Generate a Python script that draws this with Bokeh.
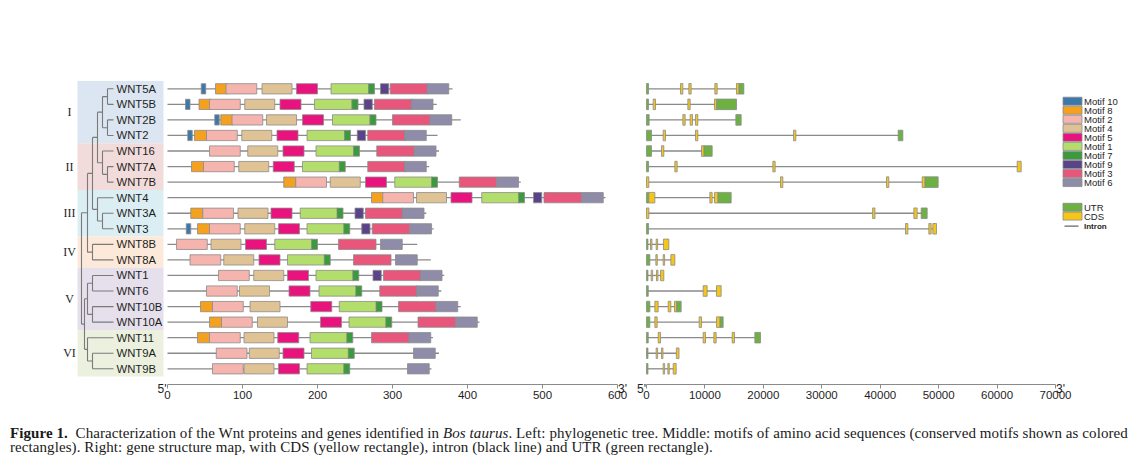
from bokeh.plotting import figure
from bokeh.models import Range1d, LinearAxis, SingleIntervalTicker, BasicTickFormatter, Div
from bokeh.layouts import column
from bokeh.embed import file_html
from bokeh.resources import INLINE
from bokeh.core.properties import value

# ---------------- data ----------------
genes = ["WNT5A", "WNT5B", "WNT2B", "WNT2", "WNT16", "WNT7A", "WNT7B", "WNT4", "WNT3A", "WNT3",
         "WNT8B", "WNT8A", "WNT1", "WNT6", "WNT10B", "WNT10A", "WNT11", "WNT9A", "WNT9B"]

group_names = ["I", "II", "III", "IV", "V", "VI"]
group_first = [0, 4, 7, 10, 12, 16]
group_last = [3, 6, 9, 11, 15, 18]

# phylogenetic tree: [node height, child, child]
tree = [32,
        [26,
         [21,
          [16, [11, [6, "WNT5A", "WNT5B"], [6, "WNT2B", "WNT2"]],
               [11, "WNT16", [6, "WNT7A", "WNT7B"]]],
          [16, "WNT4", [11, "WNT3A", "WNT3"]]],
         [21, "WNT8B", "WNT8A"]],
        [29,
         [26, [21, "WNT1", "WNT6"], [21, "WNT10B", "WNT10A"]],
         [26, "WNT11", [21, "WNT9A", "WNT9B"]]]]

protein_length = [380, 359, 391, 360, 362, 349, 471, 584, 345, 355,
                  333, 351, 369, 365, 391, 416, 354, 362, 352]

motif_names = ["Motif 10", "Motif 8", "Motif 2", "Motif 4", "Motif 5",
               "Motif 1", "Motif 7", "Motif 9", "Motif 3", "Motif 6"]
motif_width = [6, 16, 41, 40, 28, 50, 8, 11, 50, 29]
# start position (aa) of each motif, in motif_names order (None = absent)
motif_start = {
    "WNT5A":  [45, 64, 78, 126, 172, 218, 268, 284, 297, 346],
    "WNT5B":  [24, 42, 56, 103, 150, 196, 246, 262, 276, 325],
    "WNT2B":  [63, 71, 86, 132, 180, 220, 270, None, 300, 350],
    "WNT2":   [27, 36, 52, 99, 146, 186, 236, 253, 267, 316],
    "WNT16":  [None, None, 56, 107, 154, 198, 248, None, 279, 329],
    "WNT7A":  [None, 32, 48, 95, 141, 180, 229, None, 267, 316],
    "WNT7B":  [None, 155, 171, 217, 264, 303, 352, None, 389, 439],
    "WNT4":   [None, 272, 287, 332, 378, 419, 468, 488, 502, 552],
    "WNT3A":  [None, 31, 47, 94, 138, 177, 226, 250, 264, 313],
    "WNT3":   [25, 40, 56, 103, 148, 186, 235, 259, 273, 323],
    "WNT8B":  [None, None, 12, 58, 104, 143, 192, None, 228, 284],
    "WNT8A":  [None, None, 30, 75, 122, 160, 209, None, 248, 304],
    "WNT1":   [None, None, 68, 115, 160, 198, 247, 274, 288, 337],
    "WNT6":   [None, None, 52, 96, 162, 202, 251, None, 283, 332],
    "WNT10B": [None, 44, 60, 110, 191, 229, 278, None, 308, 358],
    "WNT10A": [None, 56, 72, 120, 204, 242, 291, None, 334, 384],
    "WNT11":  [None, 40, 56, 102, 147, 190, 239, None, 272, 322],
    "WNT9A":  [None, None, 65, 109, 154, 192, 241, None, None, 328],
    "WNT9B":  [None, None, 60, 102, 148, 186, 235, None, None, 320],
}

gene_length = [16660, 15404, 16202, 43872, 11239, 64125, 49917, 14490, 48036, 49634,
               3822, 4850, 2966, 12779, 5933, 13122, 19511, 5563, 5078]
utr_segments = {
    "WNT5A": [(0, 350), (15803, 16660)],
    "WNT5B": [(0, 350), (11980, 15404)],
    "WNT2B": [(0, 450), (15289, 16202)],
    "WNT2": [(0, 856), (43073, 43872)],
    "WNT16": [(0, 856), (9813, 11239)],
    "WNT7A": [(0, 350)],
    "WNT7B": [(47636, 49917)],
    "WNT4": [(0, 400), (12208, 14490)],
    "WNT3A": [(47009, 48036)],
    "WNT3": [(0, 350)],
    "WNT8B": [(0, 250)],
    "WNT8A": [(0, 570)],
    "WNT1": [(0, 250)],
    "WNT6": [(0, 300)],
    "WNT10B": [(0, 570), (5135, 5933)],
    "WNT10A": [(0, 570), (12551, 13122)],
    "WNT11": [(0, 300), (18541, 19511)],
    "WNT9A": [(0, 250)],
    "WNT9B": [(0, 250)],
}
cds_segments = {
    "WNT5A": [(5819, 6219), (7245, 7645), (11695, 12095), (15404, 15803)],
    "WNT5B": [(1141, 1541), (7074, 7474), (11638, 11980)],
    "WNT2B": [(6218, 6618), (7473, 7873), (8386, 8786)],
    "WNT2": [(2852, 3252), (8386, 8786), (25159, 25559)],
    "WNT16": [(2567, 2967), (9413, 9813)],
    "WNT7A": [(4849, 5249), (21622, 22022), (63441, 64125)],
    "WNT7B": [(0, 400), (22934, 23334), (41076, 41476), (47180, 47636)],
    "WNT4": [(400, 1426), (10839, 11239), (11638, 12208)],
    "WNT3A": [(0, 400), (38700, 39100), (45754, 46325)],
    "WNT3": [(44328, 44728), (48322, 48722), (49006, 49634)],
    "WNT8B": [(685, 935), (1654, 1904), (2900, 3822)],
    "WNT8A": [(1597, 1847), (2852, 3102), (4165, 4850)],
    "WNT1": [(799, 1049), (1711, 1961), (2396, 2966)],
    "WNT6": [(9699, 10383), (11981, 12779)],
    "WNT10B": [(1426, 1997), (3709, 4165), (4792, 5135)],
    "WNT10A": [(1426, 1826), (9014, 9414), (11981, 12551)],
    "WNT11": [(1997, 2397), (9699, 10099), (11524, 11924), (14661, 15061)],
    "WNT9A": [(1654, 1904), (2567, 2817), (5107, 5563)],
    "WNT9B": [(2852, 3102), (3652, 3902), (4564, 5078)],
}

motif_ticks_max = 600
gene_ticks_max = 70000

# ---------------- styling / layout constants ----------------
motif_colors = ["#3d78ab", "#f4a11f", "#f6b4ae", "#dfc394", "#e8137d",
                "#b3de6c", "#3a9a3d", "#5b4389", "#e8567b", "#8f8ca9"]
group_colors = ["#dce6f2", "#f2dcdb", "#dbeef3", "#fde9d9", "#e5e0ec", "#ebf1de"]
UTR_COLOR = "#6cb142"
CDS_COLOR = "#f5c518"
EDGE = "#8c8c8c"
LINE = "#8a8a8a"
TXT = "#1e1e1e"
SANS = value("Liberation Sans")
SERIF = value("Liberation Serif")

W, H = 1134, 410
PX0, PX1 = 0, W            # page pixels covered by the frame
PY0, PY1 = 0, H
ROW0, ROW_STEP = 88.3, 280 / 18.0
MOTIF_X0, MOTIF_X1 = 167.0, 617.0
GENE_X0, GENE_X1 = 646.0, 1055.0
AXIS_Y = 384
TIP_X = 113
LABEL_X = 116

ms = (MOTIF_X1 - MOTIF_X0) / motif_ticks_max
gs = (GENE_X1 - GENE_X0) / gene_ticks_max

p = figure(width=W, height=H, output_backend="svg", toolbar_location=None, title=None,
           x_range=Range1d(PX0, PX1), y_range=Range1d(PY1, PY0),
           x_axis_type=None, y_axis_type=None, min_border=0,
           outline_line_color=None, background_fill_color="white", border_fill_color="white")
p.extra_x_ranges = {
    "motif": Range1d((PX0 - MOTIF_X0) / ms, (PX1 - MOTIF_X0) / ms),
    "gene": Range1d((PX0 - GENE_X0) / gs, (PX1 - GENE_X0) / gs),
}
p.extra_y_ranges = {"row": Range1d((PY1 - ROW0) / ROW_STEP, (PY0 - ROW0) / ROW_STEP)}

rows = list(range(len(genes)))

# ---------------- group bands & numerals ----------------
p.quad(left=[77] * 6, right=[163] * 6,
       top=[f - 0.5 for f in group_first], bottom=[l + 0.5 for l in group_last],
       fill_color=group_colors, line_color=None, y_range_name="row")
p.text(x=[69] * 6, y=[(f + l) / 2 for f, l in zip(group_first, group_last)], text=group_names,
       text_font=SERIF, text_font_size="12px", text_color=TXT,
       text_align="center", text_baseline="middle", y_range_name="row")

# ---------------- tree ----------------
segs = []


def walk(node):
    if isinstance(node, str):
        return TIP_X, genes.index(node)
    h, a, b = node
    xa, ya = walk(a)
    xb, yb = walk(b)
    x = TIP_X - h
    segs.append((x, ya, x, yb))
    segs.append((x, ya, xa, ya))
    segs.append((x, yb, xb, yb))
    return x, (ya + yb) / 2.0


rx, ry = walk(tree)
p.segment(x0=[s[0] for s in segs], y0=[s[1] for s in segs],
          x1=[s[2] for s in segs], y1=[s[3] for s in segs],
          line_color="#7a7a7a", line_width=1.1, y_range_name="row")

p.text(x=[LABEL_X] * len(genes), y=rows, text=genes, text_font=SANS, text_font_size="11.3px",
       text_color=TXT, text_baseline="middle", text_align="left", y_range_name="row")

# ---------------- motif panel ----------------
p.segment(x0=[0] * len(genes), x1=protein_length, y0=rows, y1=rows,
          line_color=LINE, line_width=1.3, x_range_name="motif", y_range_name="row")
for k, name in enumerate(motif_names):
    L, R, Y = [], [], []
    for i, g in enumerate(genes):
        s = motif_start[g][k]
        if s is not None:
            L.append(s)
            R.append(s + motif_width[k])
            Y.append(i)
    p.quad(left=L, right=R, top=[y - 0.33 for y in Y], bottom=[y + 0.33 for y in Y],
           fill_color=motif_colors[k], line_color=EDGE, line_width=0.8,
           x_range_name="motif", y_range_name="row")

# ---------------- gene structure panel ----------------
p.segment(x0=[0] * len(genes), x1=gene_length, y0=rows, y1=rows,
          line_color=LINE, line_width=1.3, x_range_name="gene", y_range_name="row")
for segd, col in ((utr_segments, UTR_COLOR), (cds_segments, CDS_COLOR)):
    L, R, Y = [], [], []
    for i, g in enumerate(genes):
        for a, b in segd[g]:
            L.append(a)
            R.append(b)
            Y.append(i)
    p.quad(left=L, right=R, top=[y - 0.34 for y in Y], bottom=[y + 0.34 for y in Y],
           fill_color=col, line_color=EDGE, line_width=0.8,
           x_range_name="gene", y_range_name="row")

# ---------------- axes ----------------
for rng, mx, step in (("motif", motif_ticks_max, 100), ("gene", gene_ticks_max, 10000)):
    ax = LinearAxis(x_range_name=rng, fixed_location=AXIS_Y, bounds=(0, mx),
                    ticker=SingleIntervalTicker(interval=step, num_minor_ticks=0),
                    formatter=BasicTickFormatter(use_scientific=False))
    ax.axis_line_color = LINE
    ax.axis_line_width = 1.2
    ax.major_tick_line_color = LINE
    ax.major_tick_in = 0
    ax.major_tick_out = 4
    ax.minor_tick_line_color = None
    ax.major_label_standoff = 2
    ax.major_label_text_font = "Liberation Sans"
    ax.major_label_text_font_size = "11.5px"
    ax.major_label_text_color = TXT
    p.add_layout(ax, "below")

# 5' / 3' ends
p.text(x=[MOTIF_X0 - 1, GENE_X0 - 0.5], y=[388.5, 388.5], text=["5'", "5'"], text_font=SANS,
       text_font_size="12px", text_color=TXT, text_align="right", text_baseline="alphabetic")
p.text(x=[MOTIF_X1 + 0.5, GENE_X1 + 0.5], y=[388, 388], text=["3'", "3'"], text_font=SANS,
       text_font_size="12px", text_color=TXT, text_align="left", text_baseline="alphabetic")

# ---------------- legends (page-pixel positions) ----------------
LEG_X0, LEG_X1, LEG_TX = 1062.5, 1081.5, 1083.5
leg_y = [100.7 + 9.04 * k for k in range(len(motif_names))]
p.quad(left=[LEG_X0] * len(leg_y), right=[LEG_X1] * len(leg_y),
       top=[y - 4.0 for y in leg_y], bottom=[y + 4.0 for y in leg_y],
       fill_color=motif_colors, line_color=EDGE, line_width=0.8)
p.text(x=[LEG_TX] * len(leg_y), y=leg_y, text=motif_names, text_font=SANS, text_font_size="9.5px",
       text_color=TXT, text_baseline="middle")

gy = [206.8, 215.6]
p.quad(left=[LEG_X0] * 2, right=[LEG_X1] * 2, top=[y - 4.0 for y in gy], bottom=[y + 4.0 for y in gy],
       fill_color=[UTR_COLOR, CDS_COLOR], line_color=EDGE, line_width=0.8)
p.text(x=[LEG_TX] * 2, y=gy, text=["UTR", "CDS"], text_font=SANS, text_font_size="9.5px",
       text_color=TXT, text_baseline="middle")
p.segment(x0=[1064], x1=[1078], y0=[225.7], y1=[225.7], line_color="#666666", line_width=1.2)
p.text(x=[LEG_TX], y=[225.7], text=["Intron"], text_font=SANS, text_font_size="8px",
       text_font_style="bold", text_color=TXT, text_baseline="middle")

# ---------------- caption ----------------
caption = Div(width=W, height=46, margin=(0, 0, 0, 0), text=(
    '<div style="font-family:\'Liberation Serif\',serif;font-size:15px;line-height:14px;'
    'letter-spacing:0.08px;color:#1a1a1a;white-space:nowrap;padding:16px 0 0 10px;">'
    '<b>Figure 1.</b>&nbsp; Characterization of the Wnt proteins and genes identified in '
    '<i>Bos taurus</i>. Left: phylogenetic tree. Middle: motifs of amino acid sequences '
    '(conserved motifs shown as colored<br>rectangles). Right: gene structure map, with CDS '
    '(yellow rectangle), intron (black line) and UTR (green rectangle).</div>'))

layout = column(p, caption, spacing=0)
open("out.html", "w").write(file_html(layout, INLINE))
